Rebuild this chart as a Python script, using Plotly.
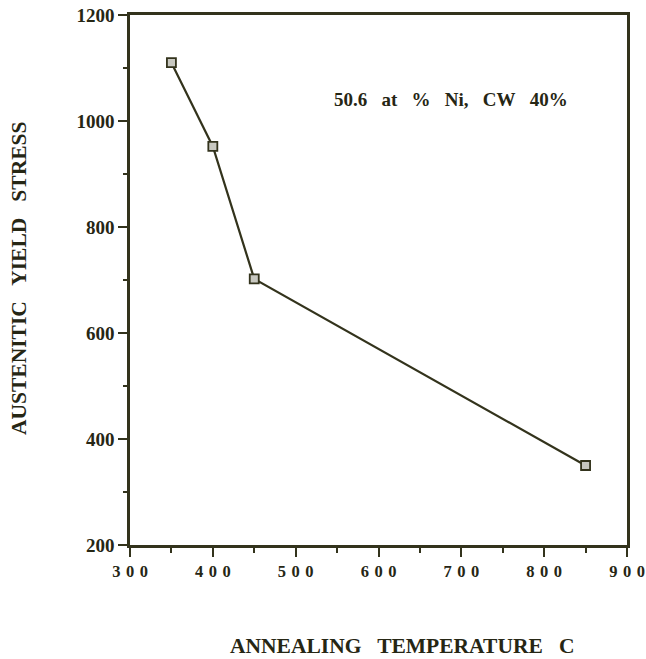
import plotly.graph_objects as go

temps = [350, 400, 450, 850]
stress = [1110, 952, 702, 350]
x_ticks = [300, 400, 500, 600, 700, 800, 900]
x_tick_labels = ["3\u20040\u20040", "4\u20040\u20040", "5\u20040\u20040", "6\u20040\u20040",
                 "7\u20040\u20040", "8\u20040\u20040", "9\u20040\u20040"]
y_ticks = [200, 400, 600, 800, 1000, 1200]
y_tick_labels = ["200", "400", "600", "800", "1000", "1200"]
note = "50.6\u2002 at\u2002 %\u2002 Ni,\u2002 CW\u2002 40%"
x_title = "ANNEALING\u2002 TEMPERATURE\u2002 C"
y_title = "AUSTENITIC\u2002 YIELD\u2002 STRESS"

ink = "#33331c"
txt = "#262614"
font_family = "Liberation Serif, Times New Roman, serif"

fig = go.Figure()
fig.add_trace(go.Scatter(
    x=temps, y=stress, mode="lines+markers",
    line=dict(color=ink, width=2.2),
    marker=dict(symbol="square", size=9, color="#c8c8c0",
                line=dict(color=ink, width=1.8)),
    showlegend=False,
))

axis_common = dict(
    showgrid=False, zeroline=False, showline=True, linecolor=ink,
    linewidth=2.5, mirror=True, ticks="outside", tickcolor=ink,
    tickwidth=2, ticklen=9, automargin=False, ticklabeloverflow="allow",
)

L, R, T, B = 130, 19, 15, 114
W, H = 646, 659
w_plot = W - L - R
h_plot = H - T - B

fig.update_layout(
    width=W, height=H,
    margin=dict(l=L, r=R, t=T, b=B),
    paper_bgcolor="white", plot_bgcolor="white",
    xaxis=dict(range=[300, 900], tickvals=x_ticks, ticktext=x_tick_labels,
               tickfont=dict(family=font_family, size=16.5, color=txt, weight="bold"),
               minor=dict(ticks="outside", ticklen=5, tickwidth=2,
                          tickcolor=ink, dtick=50, tick0=300, showgrid=False),
               **axis_common),
    yaxis=dict(range=[200, 1200], tickvals=y_ticks, ticktext=y_tick_labels,
               tickfont=dict(family=font_family, size=19, color=txt, weight="bold"),
               minor=dict(ticks="outside", ticklen=4, tickwidth=2,
                          tickcolor=ink, dtick=100, tick0=200, showgrid=False),
               **axis_common),
    annotations=[
        dict(text=note, x=688, y=1040, xref="x", yref="y", showarrow=False,
             font=dict(family=font_family, size=19, color=txt, weight="bold")),
        dict(text=x_title, x=(402 - L) / w_plot, y=1 - (646 - T) / h_plot,
             xref="paper", yref="paper", xanchor="center", yanchor="middle",
             showarrow=False,
             font=dict(family=font_family, size=21.5, color=txt, weight="bold")),
        dict(text=y_title, x=(19 - L) / w_plot, y=1 - (279 - T) / h_plot,
             xref="paper", yref="paper", xanchor="center", yanchor="middle",
             showarrow=False, textangle=-90,
             font=dict(family=font_family, size=21.5, color=txt, weight="bold")),
    ],
)

fig.write_html("out.html", config={"displayModeBar": False},
               post_script="document.body.style.margin='0';document.body.style.padding='0';")
